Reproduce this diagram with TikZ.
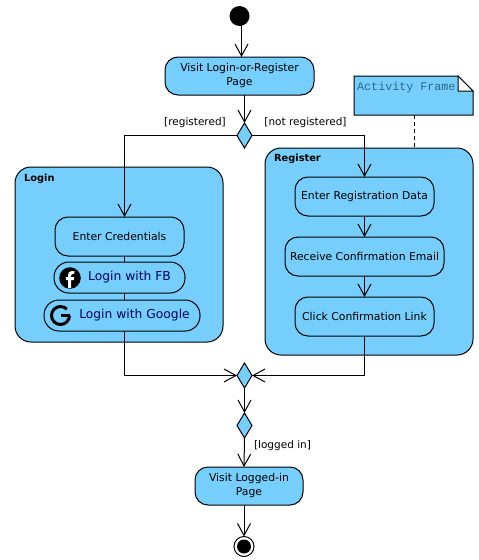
\documentclass[tikz,border=0pt]{standalone}
\usepackage{fontspec}
\setmainfont{DejaVu Sans}
\newfontfamily\notefont{Liberation Mono}
\usetikzlibrary{arrows.meta,shapes.geometric}
\definecolor{umlblue}{HTML}{75CEFB}
\definecolor{notetext}{HTML}{2A6A8A}
\definecolor{btntext}{HTML}{000066}
\newcommand\lowerline[1]{\raisebox{-1.5pt}{#1}}
\tikzset{
  x=1pt,y=-1pt,
  base/.style={draw=black,line width=1pt,fill=umlblue,inner sep=0pt,outer sep=0pt,align=center,font=\fontsize{10.8}{14}\selectfont},
  act/.style={base,rectangle,rounded corners=13pt},
  btn/.style={base,rectangle,rounded corners=15pt,text=btntext,font=\fontsize{12.3}{14}\selectfont},
  frm/.style={base,rectangle,rounded corners=16pt},
  dia/.style={base,diamond,minimum width=15pt,minimum height=25pt,aspect=0.6},
  flow/.style={line width=1pt,-{Straight Barb[length=12pt,width=13pt,line width=1pt]}},
  plainflow/.style={line width=1pt},
  lab/.style={inner sep=0pt,font=\fontsize{10.5}{12}\selectfont},
  frametitle/.style={inner sep=0pt,anchor=west,font=\bfseries\fontsize{9.8}{12}\selectfont}
}
\begin{document}
\begin{tikzpicture}
\useasboundingbox (0,0) rectangle (479,560);
% frames
\node[frm,minimum width=208pt,minimum height=175pt] (login) at (119,254.5) {};
\node[frm,minimum width=208pt,minimum height=207pt] (register) at (369,251.5) {};
\node[frametitle] (logintitle) at (24,179) {Login};
\node[frametitle] (registertitle) at (274,159) {Register};
% note
\coordinate (nb) at (414.5,115);
\draw[line width=1pt,fill=umlblue] (354,76) -- (458,76) -- (473,91) -- (473,115) -- (354,115) -- cycle;
\draw[line width=1pt,fill=white] (458,76) -- (458,91) -- (473,91) -- cycle;
\node[inner sep=0pt,anchor=west,text=notetext,font=\notefont\fontsize{11.7}{14}\selectfont] (notetitle) at (357,87) {Activity Frame};
% nodes
\node[circle,fill=black,minimum size=20pt,inner sep=0pt,outer sep=0pt] (start) at (239.5,16) {};
\node[act,minimum width=149pt,minimum height=38pt] (visit) at (239.5,76) {\lowerline{Visit Login-or-Register}\\\lowerline{Page}};
\node[dia] (dec) at (244.5,135.5) {};
\node[act,minimum width=129pt,minimum height=39pt] (enter) at (119.5,236.5) {Enter Credentials};
\node[btn,minimum width=131pt,minimum height=31pt] (fb) at (119.5,277.5) {\hspace*{20pt}Login with FB};
\node[btn,minimum width=156pt,minimum height=31pt] (google) at (122,315.5) {\hspace*{25pt}Login with Google};
\node[act,minimum width=139pt,minimum height=39pt] (regdata) at (364.5,196.5) {Enter Registration Data};
\node[act,minimum width=159pt,minimum height=39pt] (receive) at (364.5,256.5) {Receive Confirmation Email};
\node[act,minimum width=139pt,minimum height=39pt] (click) at (364.5,316.5) {Click Confirmation Link};
\node[dia] (merge) at (244.5,375.5) {};
\node[dia] (dec2) at (244.5,425.5) {};
\node[act,minimum width=108pt,minimum height=38pt] (visit2) at (249,486) {\lowerline{Visit Logged-in}\\\lowerline{Page}};
\node[circle,draw=black,line width=1pt,fill=white,minimum size=20pt,inner sep=0pt,outer sep=0pt] (endnode) at (244,546.5) {};
\node[circle,fill=black,minimum size=14pt,inner sep=0pt] (enddot) at (244,546.5) {};
% icons
\fill[black] (70,278) circle (10.8);
\fill[white] (71.2,288) -- (71.2,280) -- (73.8,280) -- (74.2,277) -- (71.2,277) -- (71.2,275) .. controls (71.2,274) and (72,273.8) .. (73,273.8) -- (74.4,273.8) -- (74.4,271) -- (72,271) .. controls (69.5,271) and (68,272.5) .. (68,275) -- (68,277) -- (65.8,277) -- (65.8,280) -- (68,280) -- (68,288) -- cycle;
\draw[black,line width=3pt] (66.86,309.14) arc[start angle=-45,end angle=-360,radius=9];
\draw[black,line width=3pt] (60.5,315.5) -- (69.5,315.5);
% connectors
\draw[flow] ([xshift=2pt]start.center) -- ([xshift=2pt]visit.north);
\draw[flow] ([xshift=5pt]visit.south) -- (dec.north);
\draw[flow] (dec.west) -| ([xshift=5pt]enter.north);
\draw[flow] (dec.east) -| (regdata.north);
\draw[plainflow] ([xshift=5pt]enter.south) -- ([xshift=5pt]fb.north);
\draw[plainflow] ([xshift=5pt]fb.south) -- ([xshift=2.5pt]google.north);
\draw[flow] ([xshift=2.5pt]google.south) |- (merge.west);
\draw[flow] (regdata.south) -- (receive.north);
\draw[flow] (receive.south) -- (click.north);
\draw[flow] (click.south) |- (merge.east);
\draw[flow] (merge.south) -- (dec2.north);
\draw[flow] (dec2.south) -- ([xshift=-5pt]visit2.north);
\draw[flow] ([xshift=-5pt]visit2.south) -- (endnode.north);
\draw[line width=1pt,dash pattern=on 4pt off 3pt] (nb) -- (nb |- register.north);
% labels
\node[lab] (lreg) at (195,123) {[registered]};
\node[lab] (lnot) at (305.5,123) {[not registered]};
\node[lab] (llog) at (282.5,446) {[logged in]};
\end{tikzpicture}
\end{document}
